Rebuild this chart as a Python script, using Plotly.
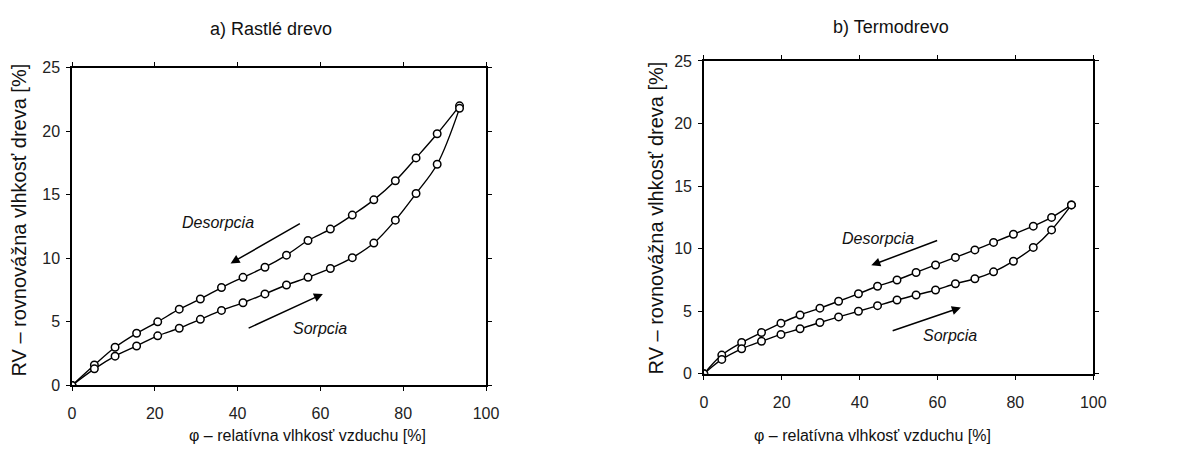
import plotly.graph_objects as go

# a) Rastlé drevo
a_des_x = [0, 5.4, 10.4, 15.6, 20.7, 25.9, 31.0, 36.1, 41.3, 46.6, 51.8, 57.0, 62.4, 67.7, 72.9, 78.1, 83.1, 88.2, 93.6]
a_des_y = [0, 1.6, 3.0, 4.1, 5.0, 6.0, 6.8, 7.7, 8.5, 9.3, 10.25, 11.4, 12.3, 13.4, 14.6, 16.1, 17.9, 19.8, 22.0]
a_sor_x = [0, 5.4, 10.4, 15.6, 20.7, 25.9, 31.0, 36.1, 41.3, 46.6, 51.8, 57.0, 62.4, 67.7, 72.9, 78.1, 83.1, 88.2, 93.6]
a_sor_y = [0, 1.3, 2.3, 3.1, 3.9, 4.5, 5.2, 5.9, 6.5, 7.2, 7.9, 8.5, 9.2, 10.05, 11.2, 13.0, 15.1, 17.4, 21.8]

# b) Termodrevo
b_des_x = [0, 4.6, 9.7, 14.8, 19.8, 24.7, 29.8, 34.6, 39.7, 44.6, 49.6, 54.5, 59.5, 64.6, 69.6, 74.4, 79.5, 84.6, 89.3, 94.4]
b_des_y = [0, 1.5, 2.5, 3.3, 4.05, 4.7, 5.25, 5.8, 6.4, 7.0, 7.5, 8.1, 8.7, 9.3, 9.9, 10.5, 11.15, 11.8, 12.5, 13.5]
b_sor_x = [0, 4.6, 9.7, 14.8, 19.8, 24.7, 29.8, 34.6, 39.7, 44.6, 49.6, 54.5, 59.5, 64.6, 69.6, 74.4, 79.5, 84.6, 89.3, 94.4]
b_sor_y = [0, 1.15, 2.0, 2.6, 3.15, 3.6, 4.1, 4.55, 5.0, 5.45, 5.9, 6.3, 6.7, 7.2, 7.6, 8.15, 9.0, 10.1, 11.5, 13.5]

x_ticks = [0, 20, 40, 60, 80, 100]
y_ticks = [0, 5, 10, 15, 20, 25]

titles = ["a) Rastlé drevo", "b) Termodrevo"]
x_title = "φ – relatívna vlhkosť vzduchu [%]"
y_title = "RV – rovnovážna vlhkosť dreva [%]"

FONT = "Liberation Sans"
W, H = 1192, 456

fig = go.Figure()

def add_series(x, y, xa, ya):
    fig.add_trace(go.Scatter(
        x=x, y=y, mode="lines+markers", xaxis=xa, yaxis=ya,
        line=dict(color="black", width=1.4, shape="spline", smoothing=1.0),
        marker=dict(symbol="circle", size=7.5, color="white",
                    line=dict(color="black", width=1.5)),
        showlegend=False, hoverinfo="skip"))

add_series(a_des_x, a_des_y, "x", "y")
add_series(a_sor_x, a_sor_y, "x", "y")
add_series(b_des_x, b_des_y, "x2", "y2")
add_series(b_sor_x, b_sor_y, "x2", "y2")

# plot areas in pixels
boxes = [(69, 489, 62, 392), (710, 1105, 55, 380)]

def axis_common():
    return dict(showgrid=False, zeroline=False, showline=True,
                linecolor="black", linewidth=1.5, mirror="ticks",
                ticks="outside", ticklen=4, tickwidth=1.2, tickcolor="black",
                tickfont=dict(family=FONT, size=16, color="#222"))

layout = dict(width=W, height=H, margin=dict(l=0, r=0, t=0, b=0),
              paper_bgcolor="white", plot_bgcolor="white",
              font=dict(family=FONT, color="#222"))
for i, (l, r, t, b) in enumerate(boxes):
    sfx = "" if i == 0 else str(i + 1)
    xa = axis_common()
    xa.update(range=[0, 100], tickvals=x_ticks, domain=[l / W, r / W],
              anchor="y" + sfx, ticklabelstandoff=9)
    ya = axis_common()
    ya.update(range=[0, 25], tickvals=y_ticks,
              domain=[(H - b) / H, (H - t) / H], anchor="x" + sfx,
              ticklabelstandoff=3)
    layout["xaxis" + sfx] = xa
    layout["yaxis" + sfx] = ya
fig.update_layout(**layout)

ann = []
# titles
for cx, cy, txt in [(271, 22, titles[0]), (900, 20, titles[1])]:
    ann.append(dict(x=cx / W, y=1 - cy / H, xref="paper", yref="paper",
                    text=txt, showarrow=False, xanchor="center", yanchor="middle",
                    font=dict(family=FONT, size=18, color="#111")))
# x titles
for cx, cy in [(308, 444), (881, 444)]:
    ann.append(dict(x=cx / W, y=1 - cy / H, xref="paper", yref="paper",
                    text=x_title, showarrow=False, xanchor="center", yanchor="middle",
                    font=dict(family=FONT, size=16, color="#111")))
# y titles
for cx, cy in [(15, 220), (661, 218)]:
    ann.append(dict(x=cx / W, y=1 - cy / H, xref="paper", yref="paper",
                    text=y_title, showarrow=False, textangle=-90,
                    xanchor="center", yanchor="middle",
                    font=dict(family=FONT, size=20, color="#111")))

# arrows and labels
arrow_specs = [
    ("x", "y", 55.4, 12.8, 38.3, 9.6, "Desorpcia", 35.2, 12.8),
    ("x", "y", 42.3, 4.45, 60.6, 7.2, "Sorpcia", 59.8, 4.45),
    ("x2", "y2", 60.3, 10.7, 43.0, 8.67, "Desorpcia", 44.7, 10.8),
    ("x2", "y2", 48.1, 3.4, 66.0, 5.3, "Sorpcia", 63.3, 3.1),
]
for xr, yr, x0, y0, x1, y1, txt, tx, ty in arrow_specs:
    ann.append(dict(x=x1, y=y1, ax=x0, ay=y0, xref=xr, yref=yr,
                    axref=xr, ayref=yr, showarrow=True, text="",
                    arrowhead=2, arrowsize=1.2, arrowwidth=1.5,
                    arrowcolor="black"))
    ann.append(dict(x=tx, y=ty, xref=xr, yref=yr, text="<i>" + txt + "</i>",
                    showarrow=False, xanchor="center", yanchor="middle",
                    font=dict(family=FONT, size=16, color="#111")))

fig.update_layout(annotations=ann)
fig.write_html("out.html")
